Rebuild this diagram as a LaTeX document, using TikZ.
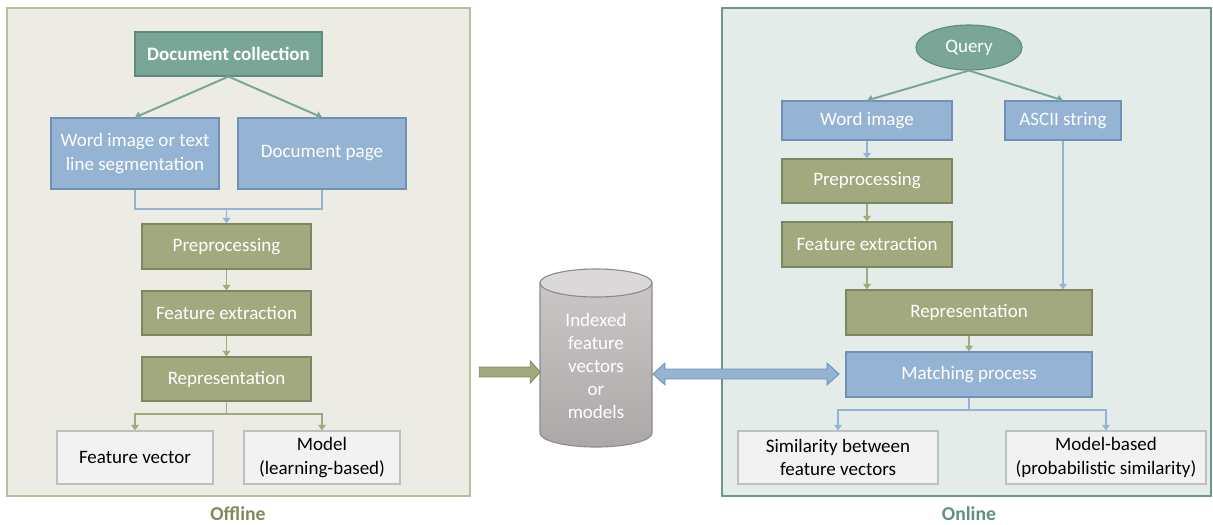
\documentclass[tikz,border=0pt]{standalone}
\usepackage{fontspec}
\setmainfont{Carlito}
\usetikzlibrary{arrows.meta,shapes.geometric,shapes.arrows}

\definecolor{tealfill}{HTML}{7AA698}
\definecolor{tealline}{HTML}{5E8B7D}
\definecolor{bluefill}{HTML}{95B3D3}
\definecolor{blueline}{HTML}{7091B5}
\definecolor{olivefill}{HTML}{A3A97E}
\definecolor{oliveline}{HTML}{7E8660}
\definecolor{grayfill}{HTML}{F2F2F2}
\definecolor{grayline}{HTML}{BFBFBF}
\definecolor{offfill}{HTML}{ECECE4}
\definecolor{offline}{HTML}{B9BF9A}
\definecolor{onfill}{HTML}{E3ECE9}
\definecolor{online}{HTML}{6E978A}
\definecolor{offtext}{HTML}{7F8A5A}
\definecolor{ontext}{HTML}{5F9182}
\definecolor{dbline}{HTML}{8F8A8A}
\definecolor{dbtop}{HTML}{DAD8D8}
\definecolor{dbupper}{HTML}{CAC6C6}
\definecolor{dblower}{HTML}{ADA8A8}

\begin{document}
\begin{tikzpicture}[x=0.025cm, y=-0.025cm,
    font=\fontsize{13.5}{16.5}\selectfont,
    box/.style={rectangle, draw, line width=0.8pt, text=white, align=center, inner sep=2pt},
    tealbox/.style={box, fill=tealfill, draw=tealline},
    bluebox/.style={box, fill=bluefill, draw=blueline},
    olivebox/.style={box, fill=olivefill, draw=oliveline},
    graybox/.style={box, fill=grayfill, draw=grayline, text=black},
    tip/.style={-{Triangle[length=4pt,width=5.5pt]}},
    tealarr/.style={tip, draw=tealfill, line width=1.4pt},
    bluethin/.style={draw=bluefill, line width=0.8pt},
    olivethin/.style={draw=olivefill, line width=0.8pt},
    bluethick/.style={draw=bluefill, line width=1.4pt},
    olivethick/.style={draw=olivefill, line width=1.4pt},
    label/.style={inner sep=0pt, font=\fontsize{14}{15}\selectfont\bfseries}
]
    \useasboundingbox (0,0) rectangle (1213,525);

    % Panels
    \draw[fill=offfill, draw=offline, line width=0.8pt] (7,8) rectangle (470,496);
    \draw[fill=onfill, draw=online, line width=0.8pt] (722,8) rectangle (1211,496);
    \node[label, text=offtext] (offlbl) at (238,513.5) {Offline};
    \node[label, text=ontext] (onlbl) at (969,513.5) {Online};

    % Offline side
    \node[tealbox, minimum width=4.675cm, minimum height=1.1cm, font=\fontsize{13.5}{16.5}\selectfont\bfseries] (doccol) at (228.5,54) {Document collection};
    \node[bluebox, minimum width=4.2cm, minimum height=1.775cm] (wordseg) at (135,153.5) {Word image or text\\line segmentation};
    \node[bluebox, minimum width=4.2cm, minimum height=1.775cm] (docpage) at (322,153.5) {Document page};
    \node[olivebox, minimum width=4.225cm, minimum height=1.125cm] (prepL) at (226.5,246.5) {Preprocessing};
    \node[olivebox, minimum width=4.225cm, minimum height=1.1cm] (featL) at (226.5,313) {Feature extraction};
    \node[olivebox, minimum width=4.225cm, minimum height=1.1cm] (reprL) at (226.5,379) {Representation};
    \node[graybox, minimum width=3.9cm, minimum height=1.325cm] (fvec) at (135,457.5) {Feature vector};
    \node[graybox, minimum width=3.9cm, minimum height=1.325cm] (model) at (322,457.5) {Model\\(learning-based)};

    \draw[tealarr] (doccol.south) -- (wordseg.north);
    \draw[tealarr] (doccol.south) -- (docpage.north);
    \coordinate (joinL) at (226.5,209);
    \draw[bluethin] (wordseg.south) |- (joinL) -| (docpage.south);
    \draw[bluethin, tip] (joinL) -- (prepL.north);
    \draw[olivethin, tip] (prepL) -- (featL);
    \draw[olivethin, tip] (featL) -- (reprL);
    \coordinate (splitL) at (226.5,414);
    \draw[olivethick] (reprL.south) -- (splitL);
    \draw[olivethick, tip] (splitL) -| (fvec.north);
    \draw[olivethick, tip] (splitL) -| (model.north);

    % Index store
    \shade[top color=dbupper, bottom color=dblower, draw=dbline, line width=0.8pt]
        (540,283) -- (540,433) arc[start angle=180, end angle=360, x radius=1.4cm, y radius=0.35cm]
        -- (652,283) -- cycle;
    \draw[fill=dbtop, draw=dbline, line width=0.8pt] (596,283) ellipse (1.4cm and 0.35cm);
    \node[text=white, align=center, minimum width=2.8cm, minimum height=4.45cm] (db) at (596,366) {Indexed\\feature\\vectors\\or\\models};

    \node[single arrow, fill=olivefill, draw=oliveline, line width=0.6pt, inner xsep=0pt, inner ysep=0.1125cm,
        minimum height=1.525cm, single arrow head extend=0.15cm,
        single arrow tip angle=95] (feed) at (507.5,372) {};
    \node[double arrow, fill=bluefill, draw=blueline, line width=0.6pt, inner xsep=0pt, inner ysep=0.1125cm,
        minimum height=4.65cm, double arrow head extend=0.15cm,
        double arrow tip angle=85] (link) at (746,374) {};

    % Online side
    \node[ellipse, fill=tealfill, draw=tealline, line width=0.8pt, text=white, minimum width=2.65cm, minimum height=1.125cm, inner sep=0pt] (query) at (969,47.5) {Query};
    \node[bluebox, minimum width=4.25cm, minimum height=0.975cm] (wordimg) at (867,120.5) {Word image};
    \node[bluebox, minimum width=2.9cm, minimum height=0.975cm] (ascii) at (1063,120.5) {ASCII string};
    \node[olivebox, minimum width=4.25cm, minimum height=1.1cm] (prepR) at (867,181) {Preprocessing};
    \node[olivebox, minimum width=4.25cm, minimum height=1.125cm] (featR) at (867,244.5) {Feature extraction};
    \node[olivebox, minimum width=6.15cm, minimum height=1.125cm] (reprR) at (969,312.5) {Representation};
    \node[bluebox, minimum width=6.15cm, minimum height=1.125cm] (match) at (969,374.5) {Matching process};
    \node[graybox, minimum width=5cm, minimum height=1.325cm] (simil) at (838,457.5) {Similarity between\\feature vectors};
    \node[graybox, minimum width=5cm, minimum height=1.325cm] (modelb) at (1106,457.5) {Model-based\\(probabilistic similarity)};

    \draw[tealarr] (query.south) -- (wordimg.north);
    \draw[tealarr] (query.south) -- (ascii.north);
    \draw[bluethin, tip] (wordimg) -- (prepR);
    \draw[olivethin, tip] (prepR) -- (featR);
    \draw[olivethin, tip] (featR.south) -- (featR.south |- reprR.north);
    \draw[bluethin, tip] (ascii.south) -- (ascii.south |- reprR.north);
    \draw[olivethin, tip] (reprR) -- (match);
    \coordinate (splitR) at (969,410);
    \draw[bluethick] (match.south) -- (splitR);
    \draw[bluethick, tip] (splitR) -| (simil.north);
    \draw[bluethick, tip] (splitR) -| (modelb.north);
\end{tikzpicture}
\end{document}
